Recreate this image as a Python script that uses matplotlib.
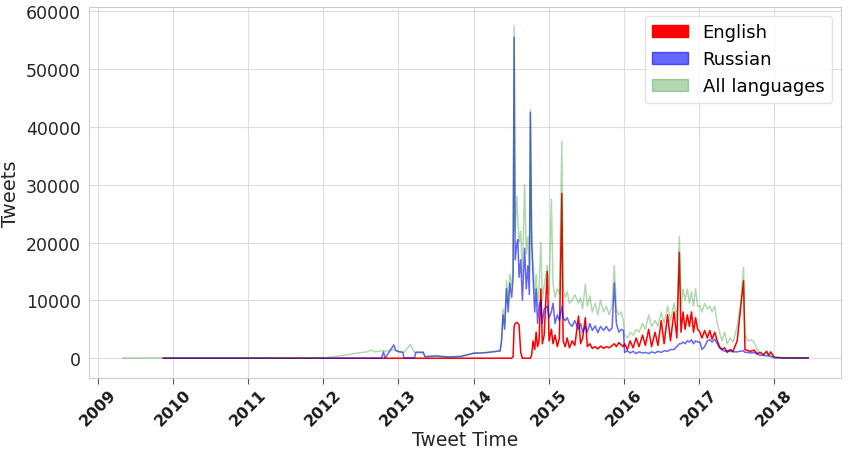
import numpy as np
import pandas as pd
import matplotlib
matplotlib.use("Agg")
from matplotlib import pyplot as plt
import matplotlib.dates as mdates
import matplotlib.patches as mpatches

nan = np.nan

# daily tweet counts (approximate)
dates = [
    # quiet years
    "2009-05-01", "2009-11-15", "2010-06-01", "2011-01-01", "2011-07-01", "2012-01-15", "2012-04-10", "2012-06-15",
    "2012-08-01", "2012-08-20", "2012-09-10", "2012-10-10", "2012-10-20", "2012-10-28", "2012-12-09", "2012-12-20",
    "2013-01-05", "2013-01-22", "2013-01-28", "2013-02-28", "2013-03-20", "2013-03-26", "2013-05-01", "2013-05-10",
    "2013-07-01", "2013-09-01", "2013-11-01", "2014-01-01", "2014-03-01", "2014-05-10",
    # 2014
    "2014-05-17", "2014-05-24",
    "2014-06-01", "2014-06-10", "2014-06-18", "2014-06-26",
    "2014-07-05", "2014-07-12", "2014-07-17", "2014-07-22", "2014-07-31",
    "2014-08-04", "2014-08-10", "2014-08-18", "2014-08-26",
    "2014-09-06", "2014-09-14", "2014-09-22", "2014-09-29",
    "2014-10-04", "2014-10-10", "2014-10-17", "2014-10-25",
    "2014-11-01", "2014-11-08", "2014-11-15", "2014-11-24",
    "2014-12-01", "2014-12-10", "2014-12-25",
    # 2015
    "2015-01-03", "2015-01-14", "2015-01-22",
    "2015-02-01", "2015-02-12", "2015-02-22",
    "2015-03-06", "2015-03-12", "2015-03-22",
    "2015-04-01", "2015-04-12", "2015-04-25",
    "2015-05-08", "2015-05-26",
    "2015-06-05", "2015-06-15", "2015-06-28",
    "2015-07-08", "2015-07-20",
    "2015-08-01", "2015-08-15", "2015-08-28",
    "2015-09-10", "2015-09-25",
    "2015-10-08", "2015-10-22",
    "2015-11-05", "2015-11-16", "2015-11-26",
    "2015-12-08", "2015-12-20", "2015-12-30",
    # 2016
    "2016-01-05", "2016-01-18",
    "2016-02-01", "2016-02-15",
    "2016-03-01", "2016-03-15",
    "2016-04-01", "2016-04-15",
    "2016-05-01", "2016-05-15",
    "2016-06-01", "2016-06-15",
    "2016-07-01", "2016-07-15",
    "2016-08-01", "2016-08-15",
    "2016-09-01", "2016-09-15", "2016-09-27",
    "2016-10-05", "2016-10-15", "2016-10-25",
    "2016-11-05", "2016-11-15", "2016-11-25",
    "2016-12-05", "2016-12-15", "2016-12-25",
    # 2017
    "2017-01-05", "2017-01-15", "2017-01-28",
    "2017-02-10", "2017-02-22",
    "2017-03-05", "2017-03-18", "2017-03-30",
    "2017-04-10", "2017-04-22",
    "2017-05-05", "2017-05-18",
    "2017-06-01", "2017-06-15",
    "2017-07-05", "2017-07-20",
    "2017-08-05", "2017-08-12", "2017-08-25",
    "2017-09-10", "2017-09-25",
    "2017-10-10", "2017-10-25",
    "2017-11-10", "2017-11-25",
    "2017-12-05", "2017-12-15",
    # 2018
    "2018-01-01", "2018-02-15", "2018-04-01", "2018-06-15",
]

all_langs = [
    30, 60, 50, 50, 60, 100, 500, 900,
    1100, 1400, 1100, 1300, 1300, 1200, 1500, 1300,
    1200, 1100, 1000, 2400, 1000, 1100, 1100, 300,
    350, 250, 350, 900, 1000, 1300,
    3500, 8500,
    6000, 13500, 9500, 14500,
    12500, 15500, 57500, 22000, 28000,
    24000, 20000, 22000, 14000,
    30000, 18000, 21000, 15000,
    43000, 22000, 17000, 11000,
    14500, 9000, 12000, 20000,
    10000, 12500, 16000,
    11000, 27500, 13000,
    10500, 12000, 11000,
    37500, 12000, 10500,
    11500, 9500, 10000,
    11000, 9500,
    10500, 8500, 12800,
    9000, 10800,
    8000, 9500, 7500,
    10000, 8000,
    9000, 7500,
    9000, 16000, 8500,
    7500, 8000, 6500,
    4000, 3500,
    4500, 4000,
    5000, 4500,
    6000, 5000,
    7500, 5500,
    6500, 5500,
    8000, 6000,
    9000, 6500,
    9500, 7000, 21000,
    9000, 12000, 10000,
    12000, 9500, 11500,
    9000, 12000, 9000,
    9000, 8000, 9500,
    8500, 9000,
    8000, 9000, 6000,
    4500, 3000,
    4500, 2500,
    3500, 2800,
    5500, 9000,
    15700, 4000, 3000,
    3200, 2800,
    1500, 1000,
    800, 900,
    700, 600,
    150, 80, 60, 50,
]

russian = [
    nan, 0, 0, 0, 0, 0, 0, 0,
    0, 0, 0, 0, 1100, 0, 2300, 1300,
    1100, 1000, 50, 50, 80, 1000, 1000, 250,
    400, 200, 300, 850, 950, 1250,
    3000, 7500,
    5000, 12000, 8000, 13000,
    10500, 14000, 55500, 17000, 20000,
    20500, 14000, 17000, 10000,
    19000, 12000, 16000, 11000,
    42500, 20000, 14000, 8000,
    12000, 6000, 9000, 10000,
    6000, 8500, 9000,
    7000, 8000, 9500,
    6000, 7500, 6500,
    9000, 7000, 6500,
    7000, 6000, 5500,
    6500, 5000,
    6000, 4500, 5500,
    4500, 6000,
    4800, 5600, 4400,
    5500, 4800,
    5500, 4700,
    5200, 13000, 6000,
    4500, 5000, 4800,
    1000, 1300,
    900, 1200,
    800, 1100,
    900, 1000,
    800, 1100,
    900, 1200,
    1000, 1300,
    1200, 1500,
    1500, 2000, 2500,
    2500, 2800, 2500,
    3000, 2800, 3200,
    2500, 3000, 2800,
    2800, 1500, 2000,
    3000, 3200,
    2800, 3300, 2500,
    1800, 1500,
    1200, 1300,
    1200, 1100,
    1100, 1200,
    1300, 1000, 1000,
    900, 1000,
    700, 500,
    500, 400,
    400, 300,
    100, 50, 40, 30,
]

english = [
    nan, 0, 0, 0, 0, 0, 0, 0,
    0, 0, 0, 0, 0, 0, 0, 0,
    0, 0, 0, 0, 0, 0, 0, 0,
    0, 0, 0, 0, 0, 0,
    0, 0,
    0, 0, 0, 0,
    0, 300, 5500, 6000, 6200,
    6000, 5800, 1000, 0,
    0, 0, 0, 0,
    0, 500, 3000, 1500,
    4500, 2000, 3000, 12000,
    2500, 4000, 15000,
    3000, 5000, 2500,
    4000, 2000, 3500,
    28500, 3000, 2000,
    3500, 1800, 3000,
    2200, 7300,
    2500, 3500, 7000,
    2000, 2500,
    1700, 2000, 1600,
    2100, 1700,
    2000, 1800,
    2200, 2500, 2000,
    2700, 2300, 2000,
    2500, 1500,
    3000, 1800,
    3500, 2000,
    4000, 2200,
    5000, 2000,
    4500, 2200,
    6500, 2500,
    7500, 3000,
    8000, 3500, 18300,
    4500, 8000, 5000,
    7500, 5500, 8000,
    4500, 7000, 5000,
    4500, 3500, 4800,
    3500, 4800,
    3300, 4500, 3000,
    2000, 1500,
    1800, 1000,
    1500, 1200,
    3000, 8000,
    13400, 1500, 1300,
    1200, 1400,
    800, 1000,
    600, 1200,
    500, 1100,
    150, 60, 50, 40,
]

x = pd.to_datetime(dates)

fig = plt.figure(figsize=(8.5, 4.52), dpi=100)
ax = fig.add_axes([0.105, 0.161, 0.884, 0.821])

ax.plot(x, english, color="red", lw=1.1)
ax.plot(x, russian, color="blue", alpha=0.6, lw=1.1)
ax.plot(x, all_langs, color="green", alpha=0.3, lw=1.1)

ax.set_xlim(pd.Timestamp("2008-11-20"), pd.Timestamp("2018-11-20"))
ax.set_ylim(-3460, 60700)
ax.set_yticks(range(0, 60001, 10000))
ax.xaxis.set_major_locator(mdates.YearLocator())
ax.xaxis.set_major_formatter(mdates.DateFormatter("%Y"))

ax.grid(color="#dddddd", lw=0.8)
ax.set_axisbelow(True)
for s in ax.spines.values():
    s.set_color("#cccccc")
ax.tick_params(axis="y", length=0, labelsize=12.5, colors="#262626", pad=6)
ax.tick_params(axis="x", length=4, color="#555555", labelsize=11.3, labelcolor="#1a1a1a", pad=2)
plt.setp(ax.get_xticklabels(), rotation=45, fontweight="semibold")

ax.set_xlabel("Tweet Time", fontsize=13.5, color="#262626")
ax.xaxis.set_label_coords(0.5, -0.14)
ax.set_ylabel("Tweets", fontsize=14, color="#262626")

handles = [
    mpatches.Patch(color="red", label="English"),
    mpatches.Patch(color="blue", alpha=0.6, label="Russian"),
    mpatches.Patch(color="green", alpha=0.3, label="All languages"),
]
ax.legend(handles=handles, loc="upper right", fontsize=13, edgecolor="#dddddd")

fig.savefig("out.png", dpi=100)
